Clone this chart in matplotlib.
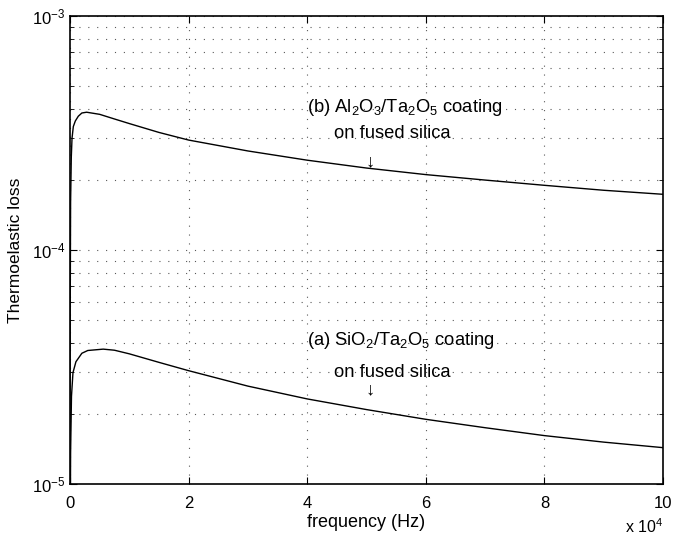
import matplotlib
matplotlib.use("Agg")
import matplotlib.pyplot as plt
from matplotlib.ticker import LogLocator, FixedLocator, NullFormatter

# values (frequency in Hz)
freq_b = [10, 30, 100, 220, 340, 560, 900, 1400, 2000, 2800, 5000, 7500, 10000,
          15000, 20000, 30000, 40000, 50000, 60000, 70000, 80000, 90000, 100000]
loss_b = [1.5e-5, 5e-5, 1.6e-4, 2.5e-4, 3.0e-4, 3.37e-4, 3.56e-4, 3.73e-4, 3.85e-4,
          3.88e-4, 3.80e-4, 3.63e-4, 3.47e-4, 3.18e-4, 2.95e-4, 2.65e-4, 2.42e-4,
          2.24e-4, 2.10e-4, 1.99e-4, 1.89e-4, 1.80e-4, 1.73e-4]

freq_a = [50, 100, 250, 500, 1000, 2000, 3000, 5600, 7500, 10000, 15000, 20000,
          30000, 40000, 50000, 60000, 70000, 80000, 90000, 100000]
loss_a = [7e-6, 1.36e-5, 2.37e-5, 2.99e-5, 3.33e-5, 3.62e-5, 3.72e-5, 3.77e-5,
          3.73e-5, 3.60e-5, 3.31e-5, 3.05e-5, 2.62e-5, 2.31e-5, 2.08e-5, 1.89e-5,
          1.74e-5, 1.61e-5, 1.51e-5, 1.43e-5]

xticks = [0, 20000, 40000, 60000, 80000, 100000]
xticklabels = ['0', '2', '4', '6', '8', '10']

plt.rcParams['font.family'] = ['Liberation Sans', 'DejaVu Sans']
plt.rcParams['mathtext.fontset'] = 'custom'
plt.rcParams['mathtext.rm'] = 'Liberation Sans'
plt.rcParams['mathtext.it'] = 'Liberation Sans:italic'
plt.rcParams['mathtext.bf'] = 'Liberation Sans:bold'

fig = plt.figure(figsize=(6.73, 5.37), dpi=100)
ax = fig.add_axes([70 / 673, 53 / 537, 593 / 673, 468 / 537])

ax.plot(freq_b, loss_b, color='black', lw=1.0)
ax.plot(freq_a, loss_a, color='black', lw=1.0)

ax.set_yscale('log')
ax.set_xlim(0, 100000)
ax.set_ylim(1e-5, 1e-3)

ax.xaxis.set_major_locator(FixedLocator(xticks))
ax.set_xticklabels(xticklabels)
ax.yaxis.set_major_locator(LogLocator(base=10, numticks=5))
ax.yaxis.set_minor_locator(LogLocator(base=10, subs=range(2, 10), numticks=20))
ax.yaxis.set_minor_formatter(NullFormatter())

ax.tick_params(which='both', direction='in', top=True, right=True, labelsize=12)
ax.tick_params(which='major', length=5, width=0.8)
ax.tick_params(which='minor', length=3, width=0.6)
ax.tick_params(axis='x', pad=9)

dots = (0, (1, 7))
ax.grid(True, which='major', axis='both', linestyle=dots, color='0.35', lw=0.8)
ax.grid(True, which='minor', axis='y', linestyle=dots, color='0.35', lw=0.8)
for s in ax.spines.values():
    s.set_linewidth(1.2)

ax.set_xlabel('frequency (Hz)', fontsize=13, labelpad=2)
ax.set_ylabel('Thermoelastic loss', fontsize=12.5, labelpad=6)
ax.text(1.0, -0.105, r'x 10$^{4}$', transform=ax.transAxes, ha='right', va='baseline', fontsize=11.5)

fs = 13.2
ax.text(40000, 4.08e-4, r'(b) Al$_2$O$_3$/Ta$_2$O$_5$ coating', fontsize=fs, va='center', ha='left')
ax.text(44500, 3.16e-4, 'on fused silica', fontsize=fs, va='center', ha='left')
ax.text(50600, 2.38e-4, '\u2193', fontsize=fs, va='center', ha='center')

ax.text(40000, 4.09e-5, r'(a) SiO$_2$/Ta$_2$O$_5$ coating', fontsize=fs, va='center', ha='left')
ax.text(44500, 2.99e-5, 'on fused silica', fontsize=fs, va='center', ha='left')
ax.text(50600, 2.52e-5, '\u2193', fontsize=fs, va='center', ha='center')

fig.savefig('out.png', dpi=100)
